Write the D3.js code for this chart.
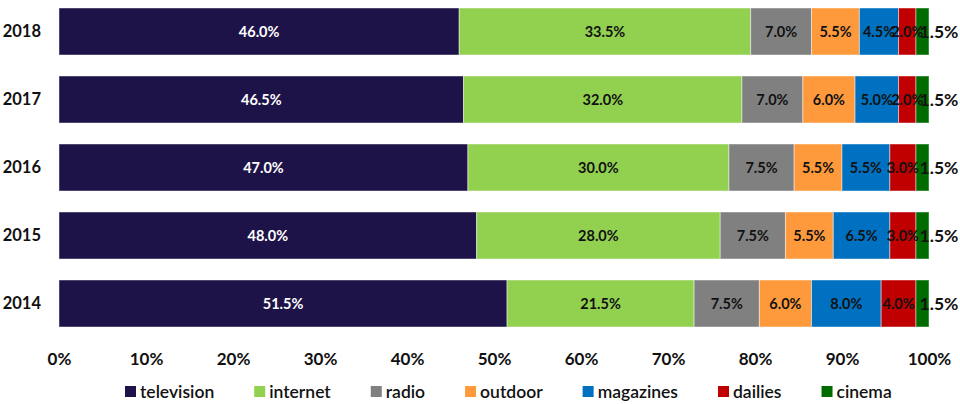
<!DOCTYPE html>
<html>
<head>
<meta charset="utf-8">
<script src="https://cdn.jsdelivr.net/npm/d3@7"></script>
<style>
  html, body { margin: 0; padding: 0; background: #fff; }
  svg { display: block; font-family: Lato, "Open Sans", sans-serif; }
</style>
</head>
<body>
<svg id="chart" width="960" height="404"></svg>
<script>
// Media advertising share by year (percent of total spend)
const years = ["2018", "2017", "2016", "2015", "2014"];
const media = ["television", "internet", "radio", "outdoor", "magazines", "dailies", "cinema"];
const television = [46.0, 46.5, 47.0, 48.0, 51.5];
const internet   = [33.5, 32.0, 30.0, 28.0, 21.5];
const radio      = [7.0, 7.0, 7.5, 7.5, 7.5];
const outdoor    = [5.5, 6.0, 5.5, 5.5, 6.0];
const magazines  = [4.5, 5.0, 5.5, 6.5, 8.0];
const dailies    = [2.0, 2.0, 3.0, 3.0, 4.0];
const cinema     = [1.5, 1.5, 1.5, 1.5, 1.5];
const xTicks = [0, 10, 20, 30, 40, 50, 60, 70, 80, 90, 100];

const colors = ["#1e1349", "#92d050", "#808080", "#ff9a3c", "#0070c0", "#c00000", "#006b00"];
const labelColors = ["#ffffff", "#111", "#111", "#111", "#111", "#111", "#111"];

const seriesValues = [television, internet, radio, outdoor, magazines, dailies, cinema];
const rows = years.map((y, i) => {
  const r = { year: y };
  media.forEach((m, k) => { r[m] = seriesValues[k][i]; });
  return r;
});

const svg = d3.select("#chart");
const x = d3.scaleLinear().domain([0, 100]).range([59, 929]);
const y = d3.scaleBand().domain(years).range([8, 327]).paddingInner(21 / 68).paddingOuter(0);
const color = d3.scaleOrdinal().domain(media).range(colors);

const stacked = d3.stack().keys(media)(rows);

const layer = svg.append("g").selectAll("g")
  .data(stacked).join("g")
  .attr("fill", d => color(d.key));

layer.selectAll("rect")
  .data(d => d.map(p => Object.assign(p, { key: d.key })))
  .join("rect")
  .attr("x", d => x(d[0]))
  .attr("y", d => y(d.data.year))
  .attr("width", d => x(d[1]) - x(d[0]))
  .attr("height", y.bandwidth())
  .attr("stroke", "rgba(255,255,255,0.45)")
  .attr("stroke-width", 1);

// Value labels centred in each segment; cinema labels sit just past the bar end
const labels = svg.append("g")
  .attr("font-weight", 700)
  .attr("text-anchor", "middle");

stacked.forEach((s, k) => {
  labels.selectAll(null)
    .data(s).join("text")
    .attr("x", d => s.key === "cinema" ? x(d[1]) + 10 : (x(d[0]) + x(d[1])) / 2)
    .attr("y", d => y(d.data.year) + y.bandwidth() / 2)
    .attr("dy", "0.36em")
    .attr("fill", labelColors[k])
    .attr("font-size", s.key === "cinema" ? 17.5 : 14.5)
    .text(d => (d[1] - d[0]).toFixed(1) + "%");
});

// Category axis (years)
const yAxis = svg.append("g")
  .attr("transform", "translate(44,0)")
  .call(d3.axisLeft(y).tickSize(0).tickPadding(3));
yAxis.select(".domain").remove();
yAxis.selectAll("text")
  .attr("font-family", "Lato, sans-serif")
  .attr("font-size", 16.5)
  .attr("font-weight", 700)
  .attr("fill", "#111");

// Value axis (percent)
const xAxis = svg.append("g")
  .attr("transform", "translate(0,353)")
  .call(d3.axisBottom(x).tickValues(xTicks).tickSize(0).tickPadding(0).tickFormat(d => d + "%"));
xAxis.select(".domain").remove();
xAxis.selectAll("text")
  .attr("font-family", "Lato, sans-serif")
  .attr("font-size", 17)
  .attr("font-weight", 700)
  .attr("fill", "#111");

// Legend
const legend = svg.append("g").attr("transform", "translate(0,392)");
let cx = 125;
media.forEach((m, k) => {
  const g = legend.append("g").attr("transform", `translate(${cx},0)`);
  g.append("rect").attr("x", 0).attr("y", -6).attr("width", 11).attr("height", 11).attr("fill", colors[k]);
  const t = g.append("text")
    .attr("x", 15).attr("y", 0).attr("dy", "0.36em")
    .attr("font-size", 17.5).attr("font-weight", 600).attr("fill", "#111")
    .text(m);
  cx += 15 + t.node().getComputedTextLength() + 40;
});
</script>
</body>
</html>
